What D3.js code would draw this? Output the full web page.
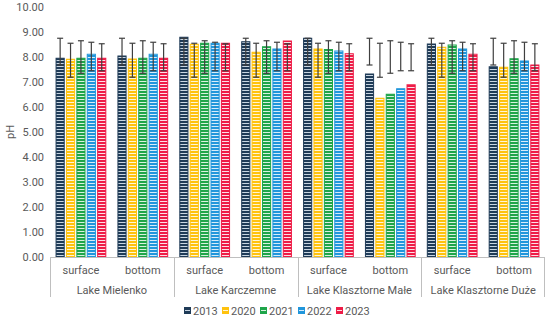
<!DOCTYPE html>
<html>
<head>
<meta charset="utf-8">
<script src="https://cdn.jsdelivr.net/npm/d3@7"></script>
<style>
  body { margin: 0; background: #fff; }
  text { font-family: Roboto, "Noto Sans", sans-serif; fill: #595959; }
</style>
</head>
<body>
<div id="chart"></div>
<script>
var lakes = ["Lake Mielenko", "Lake Karczemne", "Lake Klasztorne Małe", "Lake Klasztorne Duże"];
var depths = ["surface", "bottom"];
var years = ["2013", "2020", "2021", "2022", "2023"];
var colors = ["#1f3b57", "#ffc20e", "#1fa54a", "#2196db", "#ee1c47"];
var stripes = ["#c9d6e2", "#fff6d6", "#d9f1df", "#d8ecfa", "#fde0e6"];

// pH values, order: lake x depth (surface, bottom)
var ph2013 = [7.95, 8.04, 8.79, 8.61, 8.75, 7.32, 8.52, 7.61];
var ph2020 = [7.91, 7.92, 8.51, 8.19, 8.32, 6.35, 8.39, 7.59];
var ph2021 = [7.95, 7.95, 8.55, 8.41, 8.30, 6.51, 8.48, 7.93];
var ph2022 = [8.11, 8.11, 8.55, 8.32, 8.24, 6.73, 8.32, 7.84];
var ph2023 = [7.95, 7.95, 8.55, 8.64, 8.13, 6.89, 8.11, 7.68];
var series = [ph2013, ph2020, ph2021, ph2022, ph2023];

// error bar range per year (same in every category)
var errLow  = [7.68, 7.19, 7.35, 7.45, 7.45];
var errHigh = [8.75, 8.55, 8.65, 8.59, 8.53];

var yTicks = [0, 1, 2, 3, 4, 5, 6, 7, 8, 9, 10];

var margin = {top: 7, right: 5, bottom: 63, left: 50},
  width = 550 - margin.left - margin.right,
  height = 320 - margin.top - margin.bottom;

var svg = d3.select("#chart")
    .append("svg")
    .attr("width", 550)
    .attr("height", 320);

var defs = svg.append("defs");
colors.forEach(function(c, i) {
  var p = defs.append("pattern")
      .attr("id", "pat" + i)
      .attr("patternUnits", "userSpaceOnUse")
      .attr("width", 4)
      .attr("height", 3);
  p.append("rect").attr("width", 4).attr("height", 3).attr("fill", stripes[i]);
  p.append("rect").attr("width", 4).attr("height", 2).attr("fill", c);
});

var g = svg.append("g")
    .attr("transform", "translate(" + margin.left + "," + margin.top + ")");

var cats = [];
lakes.forEach(function(l) {
  depths.forEach(function(d) { cats.push(l + "|" + d); });
});

var x0 = d3.scaleBand().domain(cats).range([0, width]).paddingInner(0.18).paddingOuter(0.09);
var x1 = d3.scaleBand().domain(years).range([0, x0.bandwidth()]).paddingInner(0.12);
var xLake = d3.scaleBand().domain(lakes).range([0, width]);
var y = d3.scaleLinear().domain([0, 10]).range([height, 0]);

// y axis labels
g.selectAll(".ytick")
    .data(yTicks)
    .enter()
    .append("text")
    .attr("x", -6)
    .attr("y", function(d) { return y(d); })
    .attr("dy", "0.35em")
    .attr("text-anchor", "end")
    .style("font-size", "11px")
    .text(function(d) { return d.toFixed(2); });

svg.append("text")
    .attr("transform", "translate(14," + (margin.top + height / 2) + ") rotate(-90)")
    .attr("text-anchor", "middle")
    .style("font-size", "11px")
    .text("pH");

// bars
var catG = g.selectAll(".cat")
    .data(cats)
    .enter()
    .append("g")
    .attr("transform", function(d) { return "translate(" + x0(d) + ",0)"; });

catG.selectAll("rect")
    .data(function(d, ci) {
      return years.map(function(yr, i) { return {year: yr, i: i, v: series[i][ci]}; });
    })
    .enter()
    .append("rect")
    .attr("x", function(d) { return x1(d.year) + 0.5; })
    .attr("y", function(d) { return y(d.v); })
    .attr("width", x1.bandwidth() - 1)
    .attr("height", function(d) { return height - y(d.v); })
    .attr("fill", function(d) { return "url(#pat" + d.i + ")"; })
    .attr("stroke", function(d) { return colors[d.i]; })
    .attr("stroke-width", 1);

// error bars
var eb = catG.selectAll(".err")
    .data(years.map(function(yr, i) { return {year: yr, i: i}; }))
    .enter()
    .append("g")
    .attr("transform", function(d) { return "translate(" + (x1(d.year) + x1.bandwidth() / 2) + ",0)"; })
    .attr("stroke", "#3f3f3f")
    .attr("stroke-width", 1.2);

eb.append("line")
    .attr("y1", function(d) { return y(errLow[d.i]); })
    .attr("y2", function(d) { return y(errHigh[d.i]); });
eb.append("line")
    .attr("x1", -3).attr("x2", 3)
    .attr("y1", function(d) { return y(errLow[d.i]); })
    .attr("y2", function(d) { return y(errLow[d.i]); });
eb.append("line")
    .attr("x1", -3).attr("x2", 3)
    .attr("y1", function(d) { return y(errHigh[d.i]); })
    .attr("y2", function(d) { return y(errHigh[d.i]); });

// category axis
g.append("line")
    .attr("x1", 0).attr("x2", width)
    .attr("y1", height + 0.5).attr("y2", height + 0.5)
    .attr("stroke", "#bfbfbf");

g.selectAll(".sep")
    .data(lakes.concat(["end"]))
    .enter()
    .append("line")
    .attr("x1", function(d) { return d === "end" ? width - 0.5 : Math.round(xLake(d)) + 0.5; })
    .attr("x2", function(d) { return d === "end" ? width - 0.5 : Math.round(xLake(d)) + 0.5; })
    .attr("y1", height)
    .attr("y2", height + 40)
    .attr("stroke", "#bfbfbf");

var xc = d3.scaleBand().domain(cats).range([0, width]);
g.selectAll(".dlab")
    .data(cats)
    .enter()
    .append("text")
    .attr("x", function(d) { return xc(d) + xc.bandwidth() / 2; })
    .attr("y", height + 17)
    .attr("text-anchor", "middle")
    .style("font-size", "11px")
    .text(function(d) { return d.split("|")[1]; });

g.selectAll(".llab")
    .data(lakes)
    .enter()
    .append("text")
    .attr("x", function(d) { return xLake(d) + xLake.bandwidth() / 2; })
    .attr("y", height + 37)
    .attr("text-anchor", "middle")
    .style("font-size", "11px")
    .text(function(d) { return d; });

// legend
var leg = svg.selectAll(".leg")
    .data(years)
    .enter()
    .append("g")
    .attr("transform", function(d, i) { return "translate(" + (184 + i * 38) + ",311)"; });

leg.append("rect")
    .attr("x", 0.5).attr("y", -3.5)
    .attr("width", 6).attr("height", 6)
    .attr("fill", function(d, i) { return "url(#pat" + i + ")"; })
    .attr("stroke", function(d, i) { return colors[i]; });

leg.append("text")
    .attr("x", 9)
    .attr("dy", "0.35em")
    .style("font-size", "11px")
    .text(function(d) { return d; });
</script>
</body>
</html>
